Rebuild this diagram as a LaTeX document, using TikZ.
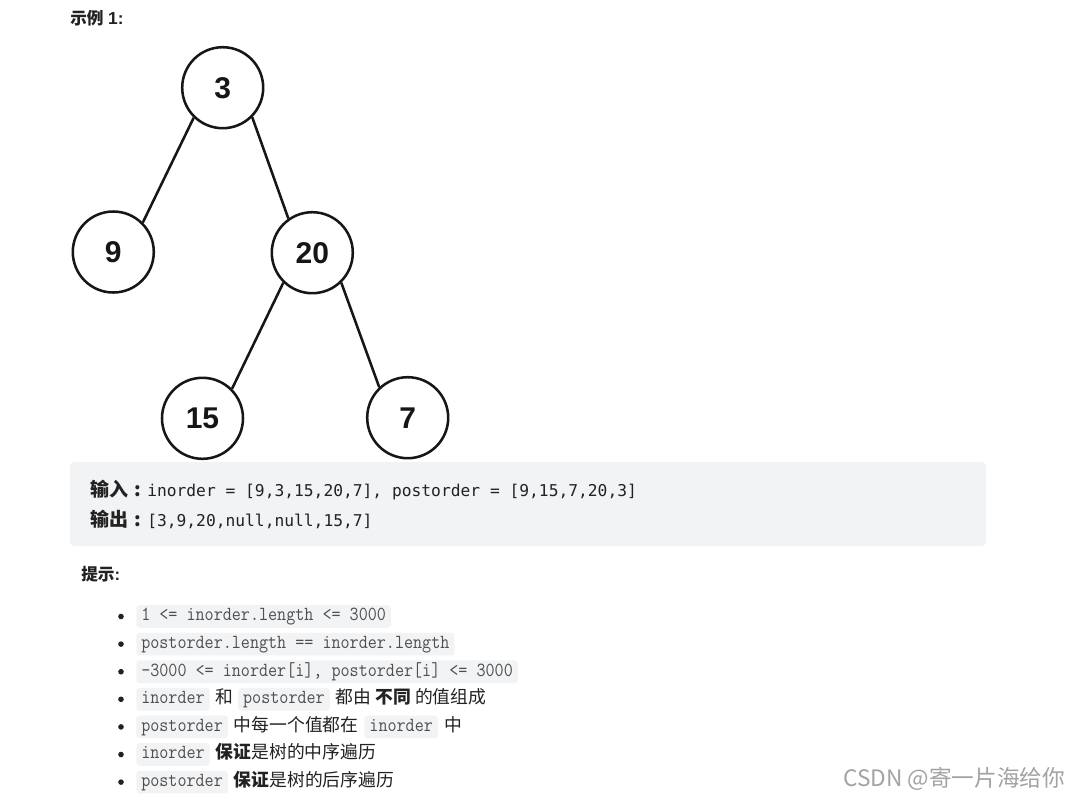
\documentclass[tikz,border=0pt]{standalone}
\usepackage{fontspec}
\setmainfont{Liberation Sans}
\newfontfamily\cjk{Noto Sans CJK SC}
\newfontfamily\codef{DejaVu Sans Mono}
\newfontfamily\chipf{Latin Modern Mono}[FakeStretch=0.88]
\usetikzlibrary{positioning}
\definecolor{treeblack}{HTML}{161616}
\definecolor{codebg}{HTML}{F2F3F5}
\definecolor{chipbg}{HTML}{F2F3F5}
\definecolor{chiptext}{HTML}{4F4F4F}
\definecolor{textdark}{HTML}{222222}
\definecolor{wmgray}{HTML}{A3A3A3}
\tikzset{
  tnode/.style={circle, draw=treeblack, line width=1.9pt, fill=white, minimum size=60.75pt, inner sep=0pt,
    text=treeblack, font=\bfseries\fontsize{22.5pt}{22.5pt}\selectfont},
  edge/.style={draw=treeblack, line width=1.9pt},
  chip/.style={fill=chipbg, rounded corners=2.5pt, inner xsep=3.75pt, inner ysep=0pt, minimum height=17pt,
    text height=9.5pt, text depth=3pt, text=chiptext, font=\chipf\fontsize{15pt}{16pt}\selectfont},
  cn/.style={inner sep=0pt, text=textdark, font=\cjk\fontsize{13.35pt}{15pt}\selectfont},
  bulletdot/.style={circle, fill=textdark, inner sep=0pt, minimum size=4.2pt},
  heading/.style={inner sep=0pt, anchor=west, text=textdark, font=\fontsize{12.5pt}{14pt}\selectfont},
  codeline/.style={inner sep=0pt, anchor=west, text=textdark},
}
\newcommand{\cjkcode}[1]{{\cjk\bfseries\fontsize{14.25pt}{16pt}\selectfont #1\makebox[1em][c]{:}}}
\newcommand{\codetext}[1]{{\codef\fontsize{12.2pt}{14pt}\selectfont #1}}
\begin{document}
\begin{tikzpicture}[x=0.75pt, y=-0.75pt]
\useasboundingbox[fill=white] (0,0) rectangle (1089,801);

% heading
\node[heading] (h1) at (70,18) {{\cjk\bfseries 示例} \textbf{\fontsize{13pt}{14pt}\selectfont 1:}};

% tree
\node[tnode] (n3) at (222.7,87.7) {3};
\node[tnode] (n9) at (113.3,252) {9};
\node[tnode] (n20) at (312.3,252.7) {20};
\node[tnode] (n15) at (202.5,418.3) {15};
\node[tnode] (n7) at (407.7,417.7) {7};
\draw[edge] (n3.226) -- (n9.45);
\draw[edge] (n3.315) -- (n20.125);
\draw[edge] (n20.226) -- (n15.45);
\draw[edge] (n20.314) -- (n7.133);

% code block
\fill[codebg, rounded corners=3pt] (70,462) rectangle (986,546);
\node[codeline] (in) at (90,490) {\cjkcode{输入}\codetext{inorder = [9,3,15,20,7], postorder = [9,15,7,20,3]}};
\node[codeline] (out) at (90,519.5) {\cjkcode{输出}\codetext{[3,9,20,null,null,15,7]}};

% hints
\node[heading] (h2) at (81,574) {{\cjk\bfseries 提示}\textbf{:}};

\foreach \yy [count=\i] in {616.5,644.1,671.7,699.3,726.9,754.5,782.1} {
  \node[bulletdot] (b\i) at (121,\yy) {};
}

\node[chip, anchor=west] (c1) at (136,616.5) {1 <= inorder.length <= 3000};
\node[chip, anchor=west] (c2) at (136,644.1) {postorder.length == inorder.length};
\node[chip, anchor=west] (c3) at (136,671.7) {-3000 <= inorder[i], postorder[i] <= 3000};

\node[chip, anchor=west] (c4a) at (136,699.3) {inorder};
\node[cn, anchor=base west] (c4b) at ([xshift=4.2pt]c4a.base east) {和};
\node[chip, anchor=base west] (c4c) at ([xshift=3pt]c4b.base east) {postorder};
\node[cn, anchor=base west] (c4d) at ([xshift=4.2pt]c4c.base east) {都由 {\bfseries 不同} 的值组成};

\node[chip, anchor=west] (c5a) at (136,726.9) {postorder};
\node[cn, anchor=base west] (c5b) at ([xshift=4.2pt]c5a.base east) {中每一个值都在};
\node[chip, anchor=base west] (c5c) at ([xshift=4pt]c5b.base east) {inorder};
\node[cn, anchor=base west] (c5d) at ([xshift=4.5pt]c5c.base east) {中};

\node[chip, anchor=west] (c6a) at (136,754.5) {inorder};
\node[cn, anchor=base west] (c6b) at ([xshift=4.2pt]c6a.base east) {{\bfseries 保证}是树的中序遍历};

\node[chip, anchor=west] (c7a) at (136,782.1) {postorder};
\node[cn, anchor=base west] (c7b) at ([xshift=4.2pt]c7a.base east) {{\bfseries 保证}是树的后序遍历};

% watermark
\node[inner sep=0pt, anchor=west, text=wmgray, font=\cjk\fontsize{17pt}{17pt}\selectfont] (wm) at (843,779) {CSDN @寄一片海给你};
\end{tikzpicture}
\end{document}
